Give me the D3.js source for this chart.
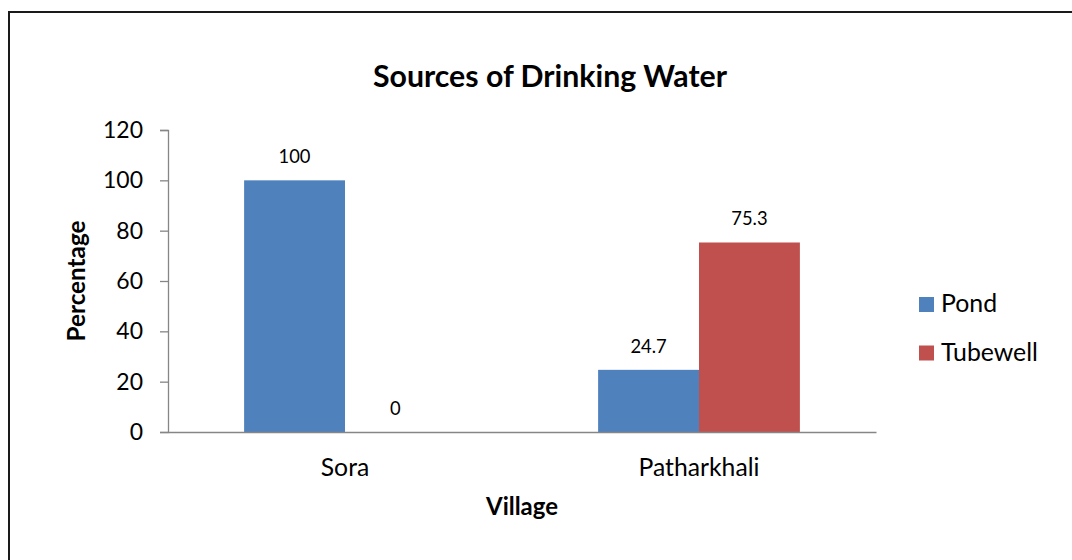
<!DOCTYPE html>
<html>
<head>
<meta charset="utf-8">
<script src="https://cdn.jsdelivr.net/npm/d3@7"></script>
<style>
  html, body { margin: 0; padding: 0; background: #fff; }
  svg { display: block; }
  text { font-family: Lato, "Liberation Sans", sans-serif; fill: #000; }
</style>
</head>
<body>
<svg id="chart" width="1072" height="560"></svg>
<script>
const title = "Sources of Drinking Water";
const categories = ["Sora", "Patharkhali"];
const seriesNames = ["Pond", "Tubewell"];
const pondValues = [100, 24.7];
const tubewellValues = [0, 75.3];
const yTicks = [0, 20, 40, 60, 80, 100, 120];
const xTitle = "Village";
const yTitle = "Percentage";
const colors = ["#4F81BD", "#C0504D"];

const seriesValues = [pondValues, tubewellValues];

const svg = d3.select("#chart");

// fit font size so rendered text width matches target width
function fit(sel, target) {
  const base = 20;
  sel.style("font-size", base + "px");
  const w = sel.node().getComputedTextLength();
  const size = base * target / w;
  sel.style("font-size", size.toFixed(2) + "px");
  return size;
}

// outer frame
svg.append("rect")
  .attr("x", 9).attr("y", 12)
  .attr("width", 1100).attr("height", 600)
  .attr("fill", "none").attr("stroke", "#1a1a1a").attr("stroke-width", 2);

const plot = { left: 168, right: 876, top: 130, bottom: 432 };

const x0 = d3.scaleBand().domain(categories)
  .range([plot.left, plot.right]).paddingInner(0.43).paddingOuter(0.215);
const x1 = d3.scaleBand().domain(seriesNames).range([0, x0.bandwidth()]);
const y = d3.scaleLinear().domain([0, 120]).range([plot.bottom, plot.top]);

// bars
const groups = svg.append("g").selectAll("g")
  .data(categories).join("g")
  .attr("transform", d => `translate(${x0(d)},0)`);

groups.selectAll("rect")
  .data((c, i) => seriesNames.map((s, j) => ({ s, j, v: seriesValues[j][i] })))
  .join("rect")
  .attr("x", d => x1(d.s))
  .attr("y", d => y(d.v))
  .attr("width", x1.bandwidth())
  .attr("height", d => y(0) - y(d.v))
  .attr("fill", d => colors[d.j]);

// data labels
const lblSel = groups.selectAll("text.lbl")
  .data((c, i) => seriesNames.map((s, j) => ({ s, j, v: seriesValues[j][i] })))
  .join("text").attr("class", "lbl")
  .attr("x", d => x1(d.s) + x1.bandwidth() / 2)
  .attr("y", d => y(d.v) - 17)
  .attr("text-anchor", "middle")
  .text(d => d.v);
{
  const first = lblSel.filter(d => d.v === 100);
  const s = fit(first, 32);
  lblSel.style("font-size", s.toFixed(2) + "px");
}

// y axis
const yAxis = svg.append("g")
  .attr("transform", `translate(${plot.left},0)`)
  .call(d3.axisLeft(y).tickValues(yTicks).tickSize(8).tickPadding(17));
yAxis.select(".domain").attr("stroke", "#868686").attr("stroke-width", 1.3);
yAxis.selectAll(".tick line").attr("stroke", "#868686").attr("stroke-width", 1.3);
yAxis.selectAll(".tick text").attr("font-family", null).attr("fill", "#000");
{
  const t = yAxis.selectAll(".tick text").filter(d => d === 120);
  const s = fit(t, 40);
  yAxis.selectAll(".tick text").style("font-size", s.toFixed(2) + "px");
}
yAxis.attr("font-family", null);

// x axis
const xAxis = svg.append("g")
  .attr("transform", `translate(0,${plot.bottom})`)
  .call(d3.axisBottom(x0).tickSize(0).tickPadding(0));
xAxis.attr("font-family", null);
xAxis.select(".domain").attr("stroke", "#868686").attr("stroke-width", 1.6);
xAxis.selectAll(".tick text").attr("dy", null).attr("y", 44).attr("fill", "#000");
{
  const t = xAxis.selectAll(".tick text").filter(d => d === "Patharkhali");
  const s = fit(t, 121);
  xAxis.selectAll(".tick text").style("font-size", s.toFixed(2) + "px");
}

// title
const tt = svg.append("text")
  .attr("x", 550).attr("y", 87)
  .attr("text-anchor", "middle").attr("font-weight", "bold")
  .text(title);
fit(tt, 354);

// axis titles
const xt = svg.append("text")
  .attr("x", (plot.left + plot.right) / 2).attr("y", 515)
  .attr("text-anchor", "middle").attr("font-weight", "bold")
  .text(xTitle);
fit(xt, 72);

const yt = svg.append("text")
  .attr("transform", `translate(85,${(plot.top + plot.bottom) / 2}) rotate(-90)`)
  .attr("text-anchor", "middle").attr("font-weight", "bold")
  .text(yTitle);
fit(yt, 121);

// legend
const legend = svg.append("g").selectAll("g")
  .data(seriesNames).join("g")
  .attr("transform", (d, i) => `translate(919,${297 + i * 48.5})`);
legend.append("rect")
  .attr("width", 15).attr("height", 15)
  .attr("fill", (d, i) => colors[i]);
const legText = legend.append("text")
  .attr("x", 22).attr("y", 15)
  .text(d => d);
{
  const t = legText.filter(d => d === "Tubewell");
  const s = fit(t, 97);
  legText.style("font-size", s.toFixed(2) + "px");
}
</script>
</body>
</html>
